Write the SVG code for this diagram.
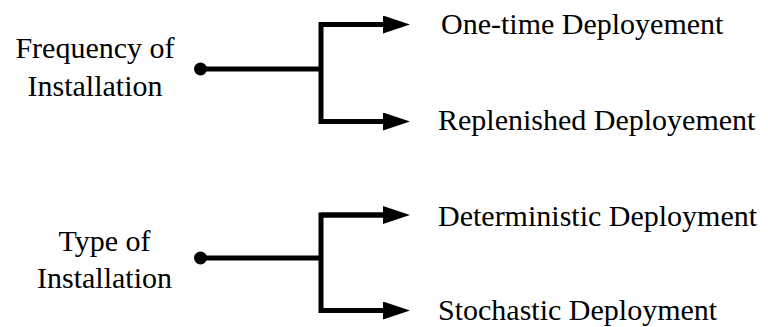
<svg xmlns="http://www.w3.org/2000/svg" width="768" height="327" viewBox="0 0 768 327">
  <defs>
    <style>
      .lbl { font-family: "Liberation Serif", "Times New Roman", serif; font-size: 30px; fill: #000; }
      .mid { text-anchor: middle; }
      .wire { fill: none; stroke: #000; stroke-width: 5; stroke-linejoin: miter; stroke-linecap: butt; }
    </style>
    <marker id="head" viewBox="0 0 27 18" refX="0" refY="9" markerWidth="27" markerHeight="18" markerUnits="userSpaceOnUse" orient="auto">
      <path d="M0,0 L27,9 L0,18 Z" fill="#000"/>
    </marker>
  </defs>
  <rect width="768" height="327" fill="#fff"/>

  <!-- source nodes -->
  <g id="frequency">
    <text class="lbl mid" x="95" y="58">Frequency of</text>
    <text class="lbl mid" x="95" y="96">Installation</text>
  </g>
  <g id="type">
    <text class="lbl mid" x="104.5" y="251">Type of</text>
    <text class="lbl mid" x="104.5" y="288">Installation</text>
  </g>

  <!-- target nodes -->
  <g id="one-time"><text class="lbl" x="441" y="34">One-time Deployement</text></g>
  <g id="replenished"><text class="lbl" x="438" y="130">Replenished Deployement</text></g>
  <g id="deterministic"><text class="lbl" x="438" y="226">Deterministic Deployment</text></g>
  <g id="stochastic"><text class="lbl" x="438" y="320">Stochastic Deployment</text></g>

  <!-- connectors -->
  <g id="connectors">
    <circle cx="200.5" cy="69" r="6.5" fill="#000"/>
    <path class="wire" d="M200,69 H321"/>
    <path class="wire" d="M384,24.5 H321 V121.5 H384"/>
    <path class="wire" d="M321,24.5 H383" marker-end="url(#head)"/>
    <path class="wire" d="M321,121.5 H383" marker-end="url(#head)"/>

    <circle cx="200.5" cy="258" r="6.5" fill="#000"/>
    <path class="wire" d="M200,258 H321"/>
    <path class="wire" d="M384,215 H321 V310.5 H384"/>
    <path class="wire" d="M321,215 H383" marker-end="url(#head)"/>
    <path class="wire" d="M321,310.5 H383" marker-end="url(#head)"/>
  </g>
</svg>
